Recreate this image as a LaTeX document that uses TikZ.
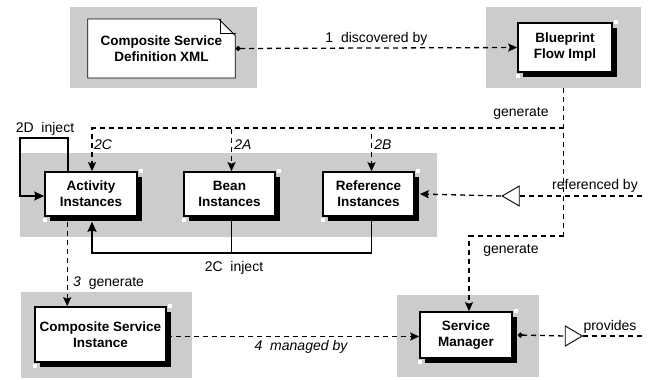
\documentclass[tikz,border=0pt]{standalone}
\usepackage{fontspec}
\setmainfont{Liberation Sans}
\usetikzlibrary{arrows.meta,positioning,calc,shadows,shapes.geometric,shapes.misc}
\definecolor{panelgray}{HTML}{CCCCCC}
\tikzset{
  % arrow tips
  head/.tip={Stealth[length=9pt,width=8pt,inset=1.5pt]},
  bighead/.tip={Stealth[length=10pt,width=9pt,inset=1.5pt]},
  blob/.tip={Circle[length=5pt]},
  % grey backdrops behind the boxes
  panel/.style={draw=none,fill=panelgray,inner sep=0pt},
  % component boxes with black drop shadow
  box/.style={draw=black,line width=1.6pt,fill=white,align=center,inner sep=2pt,
              font=\fontsize{13.5}{16}\selectfont\bfseries,
              drop shadow={shadow xshift=5pt,shadow yshift=-5pt,fill=black,opacity=1}},
  % document with a folded corner
  docbox/.style={draw=black,line width=0.9pt,fill=white,align=center,
                 chamfered rectangle,chamfered rectangle corners=north east,
                 chamfered rectangle xsep=15pt,inner sep=0pt,
                 font=\fontsize{13.5}{16}\selectfont\bfseries},
  % open interface triangles
  port/.style={draw=black,line width=0.9pt,fill=white,isosceles triangle,
               isosceles triangle stretches,minimum width=20pt,minimum height=17pt,
               inner sep=0pt},
  % connectors & labels
  dl/.style={line width=1.3pt,dash pattern=on 5pt off 4pt},
  sl/.style={line width=1.8pt},
  lbl/.style={font=\fontsize{14}{16}\selectfont,inner sep=1pt},
  nick/.style={fill=white,draw=none}
}
\begin{document}
\begin{tikzpicture}[x=1pt,y=-1pt]
  \useasboundingbox (0,0) rectangle (649,380);

  % backdrops
  \node[panel,minimum width=187pt,minimum height=81pt] (xmlPanel)  at (163.5,47.5) {};
  \node[panel,minimum width=155pt,minimum height=81pt] (bpPanel)   at (563.5,47.5) {};
  \node[panel,minimum width=417pt,minimum height=84pt] (instPanel) at (228.5,195) {};
  \node[panel,minimum width=171pt,minimum height=86pt] (csiPanel)  at (106.5,335) {};
  \node[panel,minimum width=142pt,minimum height=82pt] (smPanel)   at (468,336) {};

  % components
  \node[docbox,minimum width=141pt,minimum height=59pt] (xml) at (161.5,48.5)
    {Composite Service\\Definition XML};
  \draw[line width=0.9pt] ([xshift=-15pt]xml.north -| xml.east) -- ++(0,15) -- ++(15,0);

  \node[box,minimum width=94pt,minimum height=49pt]  (bp)   at (565,47.5)   {Blueprint\\Flow Impl};
  \node[box,minimum width=92pt,minimum height=44pt]  (act)  at (91,194)     {Activity\\Instances};
  \node[box,minimum width=91pt,minimum height=44pt]  (bean) at (229.5,194)  {Bean\\Instances};
  \node[box,minimum width=91pt,minimum height=44pt]  (ref)  at (368.5,194)  {Reference\\Instances};
  \node[box,minimum width=131pt,minimum height=55pt] (csi)  at (100.5,334.5) {Composite Service\\Instance};
  \node[box,minimum width=92pt,minimum height=46pt]  (sm)   at (466,335)    {Service\\Manager};

  % small nicks at the shadow corners
  \foreach \n in {bp,act,bean,ref,csi,sm} {
    \fill[nick] ($(\n.north east)+(1,-2)$) rectangle +(4,4);
    \fill[nick] ($(\n.south west)+(-1,1)$) rectangle +(4,4);
  }

  % interface markers
  \node[port,shape border rotate=180] (refPort)  at (513.5,196) {};
  \node[port] (provPort) at (571,336) {};
  \coordinate (refEnd)  at (642,196);
  \coordinate (provEnd) at (642,336);

  % 1 discovered by
  \draw[dl,blob-head] (xml.east) -- (bp.west)
    node[lbl,midway,above=1pt] {1\ \ discovered by};

  % generate (instances and manager)
  \coordinate (genA) at (bpPanel.south |- 0,128);
  \coordinate (genB) at (bpPanel.south |- 0,236);
  \draw[dl] (bpPanel.south) -- (genB);
  \node[lbl] (genLbl) at (521,113) {generate};
  \draw[dl,-head] (genA) -| ([xshift=1pt]act.north);
  \draw[dl,-head] (genA) -| ([xshift=2pt]bean.north);
  \draw[dl,-head] (genA) -| ([xshift=3pt]ref.north);
  \node[lbl,font=\fontsize{14}{16}\selectfont\itshape] (lbl2C) at (103,145) {2C};
  \node[lbl,font=\fontsize{14}{16}\selectfont\itshape] (lbl2A) at (243,145) {2A};
  \node[lbl,font=\fontsize{14}{16}\selectfont\itshape] (lbl2B) at (383,145) {2B};
  \draw[dl,-head] (genB) -| ([xshift=3pt]sm.north);
  \node[lbl] (genLbl2) at (511,250) {generate};

  % referenced by
  \draw[dl] (refEnd) -- (refPort.east);
  \draw[dl,-head] (refPort.west) -- ([xshift=5pt]ref.east);
  \node[lbl] (refLbl) at (595,186) {referenced by};

  % 2D inject
  \coordinate (loopC) at (20,138);
  \draw[sl,-bighead] ([xshift=24pt]act.north west) |- (loopC) |- ([yshift=-2pt]act.west);
  \node[lbl] (injD) at (45,129) {2D\ \ inject};

  % 2C inject
  \coordinate (injC) at (92,253);
  \draw[sl] ([xshift=2pt]bean.south) -- ([xshift=2pt]bean.south |- injC);
  \draw[sl,-bighead] ([xshift=3pt]ref.south) |- (injC) -- ([xshift=1pt,yshift=-5pt]act.south);
  \node[lbl] (injCLbl) at (234,268) {2C\ \ inject};

  % 3 generate
  \draw[dl,-head] ([xshift=23pt,yshift=-5pt]act.south west) -- ([xshift=23pt]act.south west |- csi.north);
  \node[lbl,anchor=west] (gen3) at (72,283) {\itshape 3\upshape\ \ generate};

  % 4 managed by
  \draw[dl,-head] ([yshift=-2pt]csi.east) -- ([yshift=-2pt]csi.east -| sm.west);
  \node[lbl,font=\fontsize{14}{16}\selectfont\itshape] (mgd) at (301,347) {4\ \ managed by};

  % provides
  \draw[dl,blob-] ([xshift=5pt]sm.east) -- (provPort.west);
  \draw[dl] (provPort.east) -- (provEnd);
  \node[lbl] (provLbl) at (610,327) {provides};
\end{tikzpicture}
\end{document}
